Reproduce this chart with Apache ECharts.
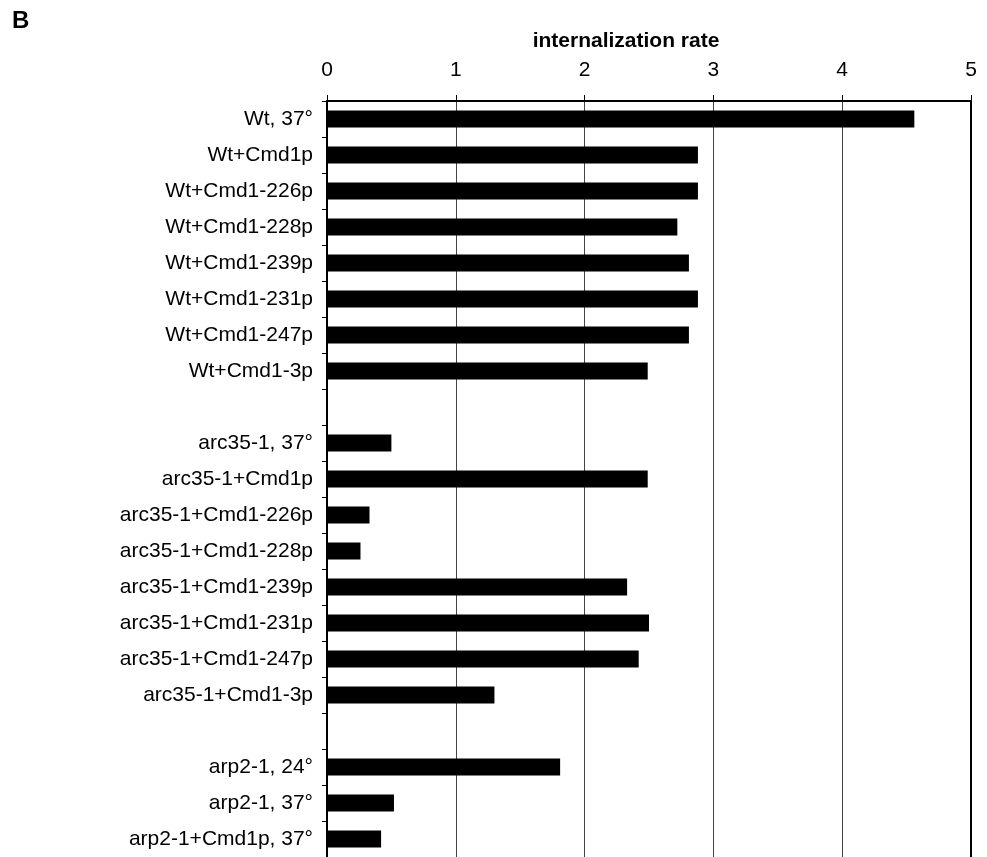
<!DOCTYPE html>
<html>
<head>
<meta charset="utf-8">
<script src="https://cdn.jsdelivr.net/npm/echarts@6/dist/echarts.min.js"></script>
<style>
html,body{margin:0;padding:0;background:#fff;}
#chart{width:987px;height:857px;}
</style>
</head>
<body>
<div id="chart"></div>
<script>
var categories = [
  'Wt, 37°', 'Wt+Cmd1p', 'Wt+Cmd1-226p', 'Wt+Cmd1-228p', 'Wt+Cmd1-239p',
  'Wt+Cmd1-231p', 'Wt+Cmd1-247p', 'Wt+Cmd1-3p', ' ',
  'arc35-1, 37°', 'arc35-1+Cmd1p', 'arc35-1+Cmd1-226p', 'arc35-1+Cmd1-228p',
  'arc35-1+Cmd1-239p', 'arc35-1+Cmd1-231p', 'arc35-1+Cmd1-247p', 'arc35-1+Cmd1-3p', '  ',
  'arp2-1, 24°', 'arp2-1, 37°', 'arp2-1+Cmd1p, 37°'
];
var rates = [
  4.56, 2.88, 2.88, 2.72, 2.81, 2.88, 2.81, 2.49, null,
  0.50, 2.49, 0.33, 0.26, 2.33, 2.50, 2.42, 1.30, null,
  1.81, 0.52, 0.42
];
var xTicks = [0, 1, 2, 3, 4, 5];
var axisTitle = 'internalization rate';
var panelLabel = 'B';

var chart = echarts.init(document.getElementById('chart'), null, {renderer: 'canvas'});
var FONT = '"Liberation Sans", Arial, Helvetica, sans-serif';
chart.setOption({
  backgroundColor: '#fff',
  animation: false,
  grid: {
    left: 327, right: 16, top: 101, height: 758, show: false
  },
  graphic: [
    {type: 'text', left: 12, top: 9, style: {text: panelLabel, font: 'bold 24px ' + FONT, fill: '#000'}},
    {type: 'text', x: 626, y: 41, style: {text: axisTitle, font: 'bold 21px ' + FONT, fill: '#000', textAlign: 'center', textVerticalAlign: 'middle'}}
  ],
  xAxis: {
    type: 'value', position: 'top', min: xTicks[0], max: xTicks[xTicks.length - 1], interval: 1,
    axisLine: {show: true, lineStyle: {color: '#000', width: 2}},
    axisTick: {show: true, inside: false, length: 6, lineStyle: {color: '#000', width: 1}},
    axisLabel: {color: '#000', fontSize: 21, fontFamily: FONT, margin: 20},
    splitLine: {show: true, lineStyle: {color: '#444', width: 1}}
  },
  yAxis: [{
    type: 'category', inverse: true, data: categories, position: 'left',
    axisLine: {show: true, lineStyle: {color: '#000', width: 2}},
    axisTick: {show: true, inside: false, length: 5, lineStyle: {color: '#000', width: 1}},
    axisLabel: {color: '#000', fontSize: 21, fontFamily: FONT, margin: 14, interval: 0},
    splitLine: {show: false}
  }, {
    type: 'category', inverse: true, data: categories, position: 'right',
    axisLine: {show: true, lineStyle: {color: '#000', width: 2}},
    axisTick: {show: false}, axisLabel: {show: false}, splitLine: {show: false}
  }],
  series: [{
    type: 'bar', data: rates, barWidth: 17, yAxisIndex: 0,
    itemStyle: {color: '#000'}
  }]
});
</script>
</body>
</html>
